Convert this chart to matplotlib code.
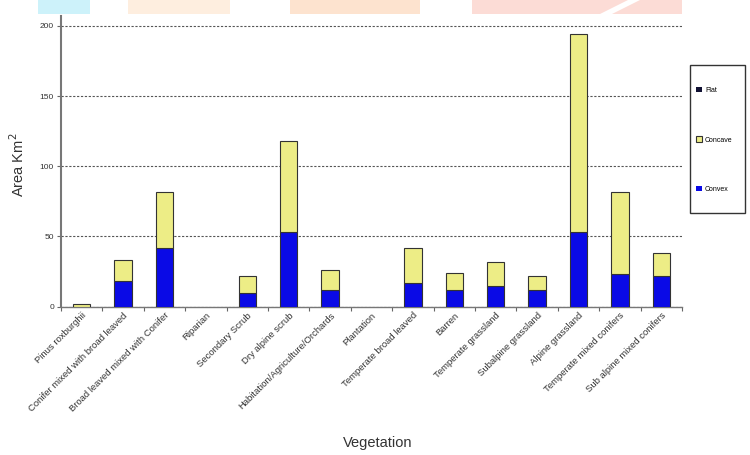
import matplotlib
matplotlib.use("Agg")
import matplotlib.pyplot as plt
from matplotlib.patches import Rectangle, Polygon
import numpy as np

plt.rcParams["font.family"] = ["Liberation Sans", "DejaVu Sans"]

# Vegetation classes on the x axis
categories = [
    "Pinus roxburghii",
    "Conifer mixed with broad leaved",
    "Broad leaved mixed with Conifer",
    "Riparian",
    "Secondary Scrub",
    "Dry alpine scrub",
    "Habitation/Agriculture/Orchards",
    "Plantation",
    "Temperate broad leaved",
    "Barren",
    "Temperate grassland",
    "Subalpine grassland",
    "Alpine grassland",
    "Temperate mixed conifers",
    "Sub alpine mixed conifers",
]

# Area (km²) per slope form, stacked bottom to top: Convex, Concave, Flat
convex = [0, 18, 42, 0, 10, 53, 12, 0, 17, 12, 15, 12, 53, 23, 22]
concave = [2, 15, 40, 0, 12, 65, 14, 0, 25, 12, 17, 10, 141, 59, 16]
flat = [0, 0, 0, 0, 0, 0, 0, 0, 0, 0, 0, 0, 0, 0, 0]

y_ticks = [0, 50, 100, 150, 200]

W, H = 750, 455
fig = plt.figure(figsize=(W / 100, H / 100), dpi=100)
fig.patch.set_facecolor("white")

# faint banner along the top edge
banner = [
    (38, 52, "#cdf2fa"),
    (128, 102, "#feeedf"),
    (290, 130, "#fde3cf"),
    (472, 210, "#fcdcd6"),
]
for x0, w, c in banner:
    fig.patches.append(Rectangle((x0 / W, 1 - 14 / H), w / W, 14 / H,
                                 transform=fig.transFigure, color=c,
                                 lw=0, zorder=0))
fig.patches.append(Polygon([(600 / W, 1 - 14 / H), (612 / W, 1 - 14 / H),
                            (640 / W, 1.0), (628 / W, 1.0)],
                           closed=True, transform=fig.transFigure,
                           color="white", lw=0, zorder=1))

ax = fig.add_axes([61 / W, 1 - 306.7 / H, 621 / W, 290.7 / H])

x = np.arange(len(categories))
conv = np.array(convex, dtype=float)
conc = np.array(concave, dtype=float)
fl = np.array(flat, dtype=float)


def edge_widths(vals):
    return [0.8 if v > 0 else 0.0 for v in vals]


bw = 0.42
edge = "#333333"
ax.bar(x, conv, bw, color="#0a0ae6", edgecolor=edge,
       linewidth=edge_widths(conv), label="Convex", zorder=3)
ax.bar(x, conc, bw, bottom=conv, color="#eded86", edgecolor=edge,
       linewidth=edge_widths(conc), label="Concave", zorder=3)
ax.bar(x, fl, bw, bottom=conv + conc, color="#111133", edgecolor=edge,
       linewidth=edge_widths(fl), label="Flat", zorder=3)

ax.set_xlim(-0.5, len(categories) - 0.5)
ax.set_ylim(0, 207)

ax.set_yticks(y_ticks)
ax.set_yticklabels([str(v) for v in y_ticks], fontsize=6, color="#333333")
ax.yaxis.grid(True, linestyle=(0, (2, 1.5)), color="#555555", linewidth=0.8,
              zorder=1)

# tick marks sit between categories, labels under each bar
ax.set_xticks(np.arange(len(categories) + 1) - 0.5, minor=False)
ax.set_xticklabels([])
ax.set_xticks(x, minor=True)
ax.set_xticklabels(categories, minor=True, rotation=45, ha="right",
                   rotation_mode="anchor", fontsize=6.8, color="#333333")
ax.tick_params(axis="x", which="minor", length=0, pad=3)
ax.tick_params(axis="x", which="major", length=3, color="#666666")
ax.tick_params(axis="y", length=3, color="#666666", pad=2)

for s in ["top", "right"]:
    ax.spines[s].set_visible(False)
ax.spines["left"].set_color("#777777")
ax.spines["left"].set_linewidth(1.5)
ax.spines["bottom"].set_color("#777777")
ax.spines["bottom"].set_linewidth(1.0)

fig.text(18 / W, 1 - 165 / H, "Area Km$^2$", rotation=90, ha="center",
         va="center", fontsize=10.5, color="#333333")
fig.text(378 / W, 1 - 443 / H, "Vegetation", ha="center", va="center",
         fontsize=10.5, color="#333333")

# legend: frame drawn as its own box, entries spread inside it
fig.patches.append(Rectangle((690 / W, 1 - 213 / H), 55 / W, 148 / H,
                             transform=fig.transFigure, facecolor="white",
                             edgecolor="#333333", linewidth=1.0, zorder=2))
handles, labels = ax.get_legend_handles_labels()
order = [2, 1, 0]
leg = fig.legend([handles[i] for i in order], [labels[i] for i in order],
                 loc="upper left", bbox_to_anchor=(696 / W, 1 - 87 / H),
                 fontsize=5, frameon=False,
                 labelspacing=6.1, handlelength=0.8, handleheight=0.8,
                 handletextpad=0.5, borderpad=0, borderaxespad=0)
leg.set_zorder(3)

fig.savefig("out.png", dpi=100, facecolor="white")
